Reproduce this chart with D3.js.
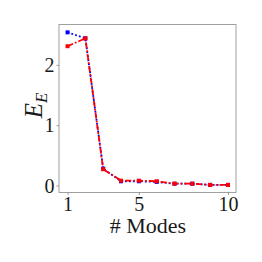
<!DOCTYPE html>
<html><head><meta charset="utf-8">
<script src="https://cdn.jsdelivr.net/npm/d3@7"></script>
<style>body{margin:0;background:#fff}svg{display:block}</style>
</head><body>
<svg id="c" width="262" height="262"></svg>
<script>
const modes = [1,2,3,4,5,6,7,8,9,10];
const blueValues = [2.54,2.44,0.28,0.07,0.07,0.06,0.03,0.03,0.01,0.01];
const redValues  = [2.31,2.44,0.27,0.08,0.08,0.07,0.03,0.03,0.01,0.01];
const xTicks = [1,5,10];
const yTicks = [0,1,2];

const svg = d3.select("#c");
const L = 59, R = 236, T = 24.5, B = 192.5;
const x = d3.scaleLinear().domain([0.52,10.45]).range([L,R]);
const y = d3.scaleLinear().domain([-0.116,2.67]).range([B,T]);
const font = "'Liberation Serif', 'DejaVu Serif', serif";

svg.append("rect").attr("x",L).attr("y",T).attr("width",R-L).attr("height",B-T)
  .attr("fill","none").attr("stroke","#a0a0a0").attr("stroke-width",1);

const xa = svg.append("g").attr("transform",`translate(0,${B})`)
  .call(d3.axisBottom(x).tickValues(xTicks).tickSize(2.5).tickPadding(2).tickFormat(d3.format("d")));
const ya = svg.append("g").attr("transform",`translate(${L},0)`)
  .call(d3.axisLeft(y).tickValues(yTicks).tickSize(2.5).tickPadding(2).tickFormat(d3.format("d")));
[xa,ya].forEach(a=>{
  a.select(".domain").remove();
  a.selectAll(".tick line").attr("stroke","#808080").attr("stroke-width",0.8);
  a.selectAll("text").attr("font-family",font).attr("font-size",20).attr("fill","#1a1a1a");
});
xa.selectAll("text").attr("dy","0.7em");
ya.selectAll("text").attr("dy","0.33em");

function series(vals, color, dash){
  const line = d3.line().x((d,i)=>x(modes[i])).y(d=>y(d));
  svg.append("path").datum(vals).attr("d",line).attr("fill","none")
    .attr("stroke",color).attr("stroke-width",1.8).attr("stroke-dasharray",dash);
  svg.append("g").selectAll("rect").data(vals).join("rect")
    .attr("x",(d,i)=>x(modes[i])-2).attr("y",d=>y(d)-2)
    .attr("width",4).attr("height",4).attr("fill",color);
}
series(blueValues,"#0000ff","1.8,2.2");
series(redValues,"#ff0000","6,2,1.8,2");

svg.append("text").attr("x",148).attr("y",233).attr("text-anchor","middle")
  .attr("font-family",font).attr("font-size",22).attr("fill","#1a1a1a").text("# Modes");

const yl = svg.append("text").attr("transform",`translate(42,${(T+B)/2 - 3}) rotate(-90)`)
  .attr("text-anchor","middle").attr("font-family",font).attr("font-style","italic")
  .attr("fill","#1a1a1a");
yl.append("tspan").attr("font-size",25).text("E");
yl.append("tspan").attr("font-size",17).attr("dy","5").text("E");
</script>
</body></html>
